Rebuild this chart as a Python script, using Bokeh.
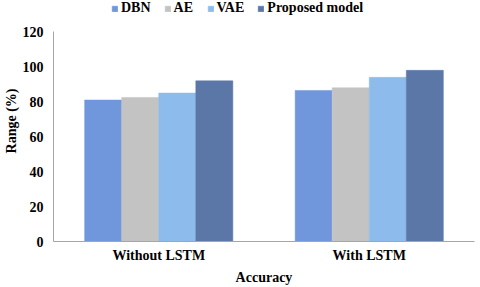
from bokeh.plotting import figure
from bokeh.models import ColumnDataSource, FactorRange, Range1d, Legend, LegendItem
from bokeh.transform import dodge
from bokeh.embed import file_html
from bokeh.resources import INLINE

categories = ["Without LSTM", "With LSTM"]
models = ["DBN", "AE", "VAE", "Proposed model"]
dbn = [81, 86.5]
ae = [82.5, 88]
vae = [85, 94]
proposed = [92, 98]
y_ticks = [0, 20, 40, 60, 80, 100, 120]

colors = ["#7096dc", "#c3c3c3", "#8dbcec", "#5b77a8"]

src = ColumnDataSource(dict(cat=categories, DBN=dbn, AE=ae, VAE=vae, Proposed=proposed))
keys = ["DBN", "AE", "VAE", "Proposed"]

FONT = "Liberation Serif"

p = figure(x_range=FactorRange(factors=categories, range_padding=0),
           y_range=Range1d(0, 138),
           width=480, height=287,
           output_backend="svg", toolbar_location=None,
           min_border_left=0, min_border_right=6, min_border_top=0, min_border_bottom=0)

bw = 0.176
offsets = [-1.5 * bw, -0.5 * bw, 0.5 * bw, 1.5 * bw]
renderers = []
for k, off, c in zip(keys, offsets, colors):
    r = p.vbar(x=dodge("cat", off, range=p.x_range), top=k, width=bw, source=src,
               fill_color=c, line_color=c, line_width=0.5)
    renderers.append(r)

p.grid.grid_line_color = None
p.outline_line_color = None
p.background_fill_color = "white"
p.border_fill_color = "white"

p.yaxis.ticker = y_ticks
p.yaxis.bounds = (0, 120)
p.yaxis.axis_label = "Range (%)"
p.xaxis.axis_label = "Accuracy"
for ax in (p.xaxis, p.yaxis):
    ax.axis_line_color = "#a6a6a6"
    ax.axis_line_width = 1
    ax.major_tick_line_color = None
    ax.minor_tick_line_color = None
    ax.major_tick_out = 0
    ax.major_tick_in = 0
    ax.major_label_text_font = FONT
    ax.major_label_text_font_style = "bold"
    ax.major_label_text_font_size = "14px"
    ax.major_label_text_color = "black"
    ax.axis_label_text_font = FONT
    ax.axis_label_text_font_style = "bold"
    ax.axis_label_text_font_size = "14px"
    ax.axis_label_text_color = "black"
p.yaxis.major_label_standoff = 10
p.yaxis.axis_label_standoff = 1
p.xaxis.major_label_standoff = 6
p.xaxis.axis_label_standoff = 4

items = [LegendItem(label=m, renderers=[r]) for m, r in zip(models, renderers)]
legend = Legend(items=items, orientation="horizontal", location=(58, 225),
                label_text_font=FONT, label_text_font_style="bold",
                label_text_font_size="14px", label_text_color="black",
                glyph_width=7, glyph_height=7, label_standoff=3, spacing=13,
                padding=1, margin=0, border_line_color=None,
                background_fill_alpha=0, label_height=14)
p.add_layout(legend, "center")

open("out.html", "w").write(file_html(p, INLINE))
